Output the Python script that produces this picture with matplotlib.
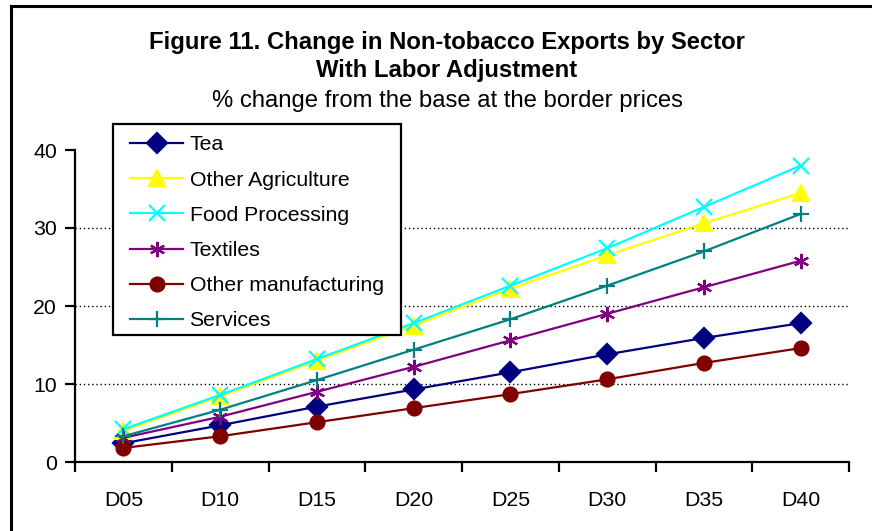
import matplotlib
matplotlib.use("Agg")
import matplotlib.pyplot as plt
from matplotlib.lines import Line2D
from matplotlib.patches import Rectangle

plt.rcParams['font.family'] = ['Liberation Sans', 'DejaVu Sans']

categories = ["D05", "D10", "D15", "D20", "D25", "D30", "D35", "D40"]

tea = [2.4, 4.7, 7.1, 9.3, 11.5, 13.8, 15.9, 17.8]
other_agriculture = [4.0, 8.4, 13.0, 17.5, 22.2, 26.5, 30.6, 34.5]
food_processing = [4.2, 8.6, 13.2, 17.8, 22.6, 27.4, 32.7, 38.0]
textiles = [3.1, 5.8, 9.0, 12.2, 15.6, 19.0, 22.4, 25.8]
other_manufacturing = [1.8, 3.3, 5.1, 6.9, 8.7, 10.6, 12.7, 14.6]
services = [3.3, 6.7, 10.5, 14.4, 18.3, 22.6, 27.0, 31.8]

series = [
    ("Tea", tea, "#000080", "D", 10.5),
    ("Other Agriculture", other_agriculture, "#FFFF00", "^", 11),
    ("Food Processing", food_processing, "#00FFFF", "x", 11),
    ("Textiles", textiles, "#800080", (6, 2, 0), 11),
    ("Other manufacturing", other_manufacturing, "#800000", "o", 10),
    ("Services", services, "#008080", "+", 11),
]

W, H = 872, 531
fig = plt.figure(figsize=(W / 100, H / 100), dpi=100)
ax = fig.add_axes([75 / W, 1 - 462 / H, (849 - 75) / W, (462 - 150) / H])

x = [i + 0.5 for i in range(len(categories))]
handles = []
for name, vals, color, marker, ms in series:
    h, = ax.plot(x, vals, color=color, lw=1.6, marker=marker, markersize=ms,
                 markerfacecolor=color, markeredgecolor=color, markeredgewidth=1.6,
                 label=name, clip_on=False)
    handles.append(h)

ax.set_xlim(0, len(categories))
ax.set_ylim(0, 40)
ax.set_yticks([0, 10, 20, 30, 40])
ax.set_xticks(range(len(categories) + 1))
ax.set_xticklabels([])
ax.set_xticks(x, minor=True)
ax.set_xticklabels(categories, minor=True)
ax.tick_params(axis='x', which='minor', length=0, pad=21, labelsize=15.3)
ax.tick_params(axis='x', which='major', length=7, width=1.6, direction='out')
ax.tick_params(axis='y', length=7, width=1.6, direction='out', labelsize=15.3, pad=6)

for v in [10, 20, 30]:
    ax.axhline(v, color='black', lw=1.0, ls=(0, (1, 2)), zorder=0)

for s in ['top', 'right']:
    ax.spines[s].set_visible(False)
for s in ['left', 'bottom']:
    ax.spines[s].set_linewidth(1.6)

cx = 447 / W
fig.text(cx, 1 - 43 / H, "Figure 11. Change in Non-tobacco Exports by Sector",
         ha='center', va='center', fontsize=17.2, fontweight='bold')
fig.text(cx, 1 - 70 / H, "With Labor Adjustment",
         ha='center', va='center', fontsize=17.2, fontweight='bold')
fig.text(cx, 1 - 101 / H, "% change from the base at the border prices",
         ha='center', va='center', fontsize=17.2)

# legend box
fig.add_artist(Rectangle((113 / W, 1 - 335 / H), (401 - 113) / W, (335 - 124) / H,
                         transform=fig.transFigure, facecolor='white',
                         edgecolor='black', lw=1.6, zorder=4))
leg = fig.legend(handles=handles, loc='upper left',
                 bbox_to_anchor=(130 / W, 1 - 135.5 / H),
                 fontsize=15.3, frameon=False, handlelength=2.5,
                 handletextpad=0.3, labelspacing=0.76, borderpad=0,
                 borderaxespad=0)
leg.set_zorder(5)

# frame lines along the top and left of the figure
fig.add_artist(Line2D([11 / W, 11 / W], [0, 1 - 5.5 / H], color='black', lw=2.2,
                      transform=fig.transFigure))
fig.add_artist(Line2D([11 / W, 1], [1 - 5.5 / H, 1 - 5.5 / H], color='black', lw=2.2,
                      transform=fig.transFigure))

fig.savefig("out.png", dpi=100)
